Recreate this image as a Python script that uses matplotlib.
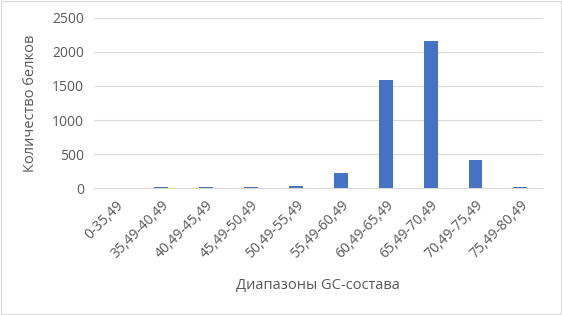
import numpy as np
import matplotlib.pyplot as plt
from matplotlib.patches import Rectangle

# GC-content ranges and protein counts
ranges = ["0-35,49", "35,49-40,49", "40,49-45,49", "45,49-50,49", "50,49-55,49",
          "55,49-60,49", "60,49-65,49", "65,49-70,49", "70,49-75,49", "75,49-80,49"]
counts = [2, 12, 12, 12, 35, 225, 1595, 2160, 405, 12]

txt = "#595959"
plt.rcParams['font.family'] = ['Open Sans', 'DejaVu Sans']

fig = plt.figure(figsize=(5.62, 3.15), dpi=100)
ax = fig.add_axes([0.167, 0.403, 0.799, 0.54])

x = np.arange(len(ranges))
ax.bar(x, counts, width=0.31, color="#4472C4", zorder=3)

ax.set_xlim(-0.5, len(ranges) - 0.5)
ax.set_ylim(0, 2500)
ax.set_yticks([0, 500, 1000, 1500, 2000, 2500])
ax.grid(axis="y", color="#D9D9D9", linewidth=0.8, zorder=0)
for s in ["top", "right", "left"]:
    ax.spines[s].set_visible(False)
ax.spines["bottom"].set_color("#D9D9D9")
ax.tick_params(length=0, labelsize=10, colors=txt, pad=7)
ax.set_xticks(x)
ax.set_xticklabels(ranges, rotation=45, ha="right", rotation_mode="anchor")

ax.set_ylabel("Количество белков", fontsize=10.5, color=txt, labelpad=10)
ax.set_xlabel("Диапазоны GC-состава", fontsize=10.5, color=txt, labelpad=12)

fig.patches.append(Rectangle((0.001, 0.002), 0.997, 0.995, transform=fig.transFigure,
                             fill=False, edgecolor="#D9D9D9", linewidth=0.8))

fig.savefig("out.png", dpi=100)
